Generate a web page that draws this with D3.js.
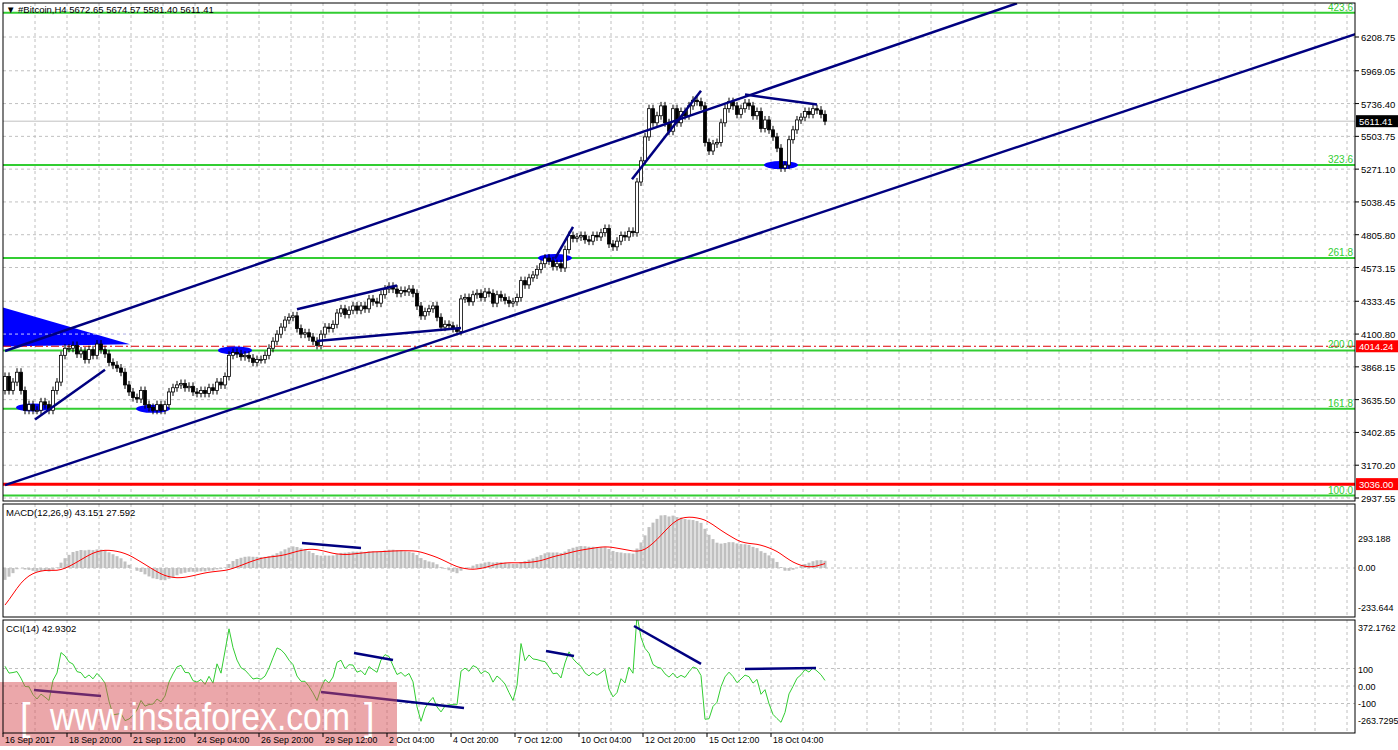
<!DOCTYPE html>
<html><head><meta charset="utf-8">
<script src="https://cdn.jsdelivr.net/npm/d3@7"></script>
<style>body{margin:0;background:#fff}svg{display:block}text{font-family:"Liberation Sans",Arial,sans-serif}</style>
</head><body><svg id="c" width="1398" height="750"></svg>
<script>
// ---------- data ----------
const priorCloses=[4300,4250,4200,4150,4100,4050,4000,3950,3900,3850,3800,3750,3700,3650,3600,3500,3400,3300,3200,3150,3100,3050,3000,3100,3300,3450,3600,3700,3750,3700];
const closes=[
3800,3700,3760,3830,3700,3560,3600,3560,
3560,3620,3600,3560,3700,3760,3950,4000,
4000,4020,3960,3980,3920,3990,3950,4030,
3990,3960,3900,3880,3860,3830,3740,3690,
3650,3640,3700,3600,3580,3560,3600,3560,
3600,3690,3720,3740,3750,3720,3730,3690,
3680,3700,3680,3720,3700,3760,3740,3800,
3950,3970,3960,3940,3950,3930,3900,3920,
3920,3950,4000,4050,4100,4150,4200,4220,
4230,4140,4100,4110,4080,4050,4020,4100,
4150,4140,4170,4250,4280,4240,4270,4300,
4270,4300,4280,4350,4330,4320,4380,4420,
4440,4420,4390,4410,4400,4420,4390,4300,
4230,4260,4280,4300,4220,4150,4170,4160,
4140,4120,4350,4360,4330,4380,4390,4360,
4400,4390,4320,4380,4360,4340,4320,4330,
4360,4480,4450,4500,4520,4560,4600,4640,
4620,4580,4600,4570,4700,4800,4780,4790,
4800,4770,4760,4800,4790,4820,4850,4740,
4720,4760,4800,4790,4830,4820,5180,5330,
5500,5700,5600,5650,5720,5600,5540,5700,
5600,5680,5650,5720,5760,5750,5720,5460,
5400,5450,5460,5600,5700,5750,5720,5660,
5700,5740,5720,5650,5680,5560,5620,5550,
5500,5420,5280,5300,5480,5550,5620,5640,
5680,5660,5700,5690,5660,5611.41];
const priceTicks=[6208.75,5969.05,5736.40,5503.75,5271.10,5038.45,4805.80,4573.15,4333.45,4100.80,3868.15,3635.50,3402.85,3170.20,2937.55];
const timeLabels=["16 Sep 2017","18 Sep 20:00","21 Sep 12:00","24 Sep 04:00","26 Sep 20:00","29 Sep 12:00","2 Oct 04:00","4 Oct 20:00","7 Oct 12:00","10 Oct 04:00","12 Oct 20:00","15 Oct 12:00","18 Oct 04:00"];
const fibLevels=[{l:"423.6",p:6380},{l:"323.6",p:5300},{l:"261.8",p:4640},{l:"200.0",p:3985},{l:"161.8",p:3570},{l:"100.0",p:2955}];
const trendLines=[[0,3981,253,6448],[0,3029,348,6328],[7.5,3494,25,3847],[78,4051,114,4143],[73,4277,98,4446],[137.5,4636,142,4862],[156.75,5200,174,5828],[185,5800,203,5730]];
const ellipses=[[7,3580],[37,3570],[57.5,3985],[137.5,4640],[194,5300]];
const cciLines=[[7.25,-23,24,-57],[79,-34,114.75,-126],[87.25,189,97,149],[135.25,200,142.25,171],[157.25,343,174,126],[185,97,202.75,103]];
const macdLines=[[74.25,129,89,103]];
const macdTicks=[["293.188",538],["0.00",567],["-233.644",607]];
const cciTicks=[["372.1762",627],["100",669],["0.00",686],["-100",703],["-263.7295",720]];

// ---------- scales ----------
const svg=d3.select("#c");
const X0=3,XR=1355;
const x=d3.scaleLinear().domain([0,1]).range([X0+2,X0+6]);
const y=d3.scaleLinear().domain([6208.75,2937.55]).range([37,498]);
const yc=d3.scaleLinear().domain([0,100]).range([686,668.5]);
const ym=d3.scaleLinear().domain([0,300]).range([568,510]);
const navy="#000080";

const all=priorCloses.concat(closes),np=priorCloses.length;
function ema(a,n){const k=2/(n+1);let r=[a[0]];for(let i=1;i<a.length;i++)r.push(a[i]*k+r[i-1]*(1-k));return r;}
const e12=ema(all,12),e26=ema(all,26),main=all.map((v,i)=>e12[i]-e26[i]);
const sig=main.map((v,i)=>d3.mean(main.slice(Math.max(0,i-8),i+1)));
const cci=all.map((v,i)=>{const s=all.slice(Math.max(0,i-13),i+1);const m=d3.mean(s);const md=d3.mean(s,d=>Math.abs(d-m));return md?(v-m)/(0.015*md):0;});
const M=main.slice(np),S=sig.slice(np),C=cci.slice(np);

const defs=svg.append("defs");
defs.append("clipPath").attr("id","cp").append("rect").attr("x",X0).attr("y",3).attr("width",XR-X0).attr("height",498);
defs.append("clipPath").attr("id","cc").append("rect").attr("x",X0).attr("y",620).attr("width",XR-X0).attr("height",113);
defs.append("clipPath").attr("id","cm").append("rect").attr("x",X0).attr("y",504).attr("width",XR-X0).attr("height",113);

const g=svg.append("g").attr("stroke","#c0c0c0").attr("stroke-dasharray","3,3");
for(let i=8;x(i)-2<XR;i+=8){[[3,501],[504,617],[620,733]].forEach(r=>g.append("line").attr("x1",x(i)-2).attr("x2",x(i)-2).attr("y1",r[0]).attr("y2",r[1]));}
priceTicks.forEach(p=>g.append("line").attr("x1",X0).attr("x2",XR).attr("y1",y(p)).attr("y2",y(p)));
[100,0,-100].forEach(v=>g.append("line").attr("x1",X0).attr("x2",XR).attr("y1",yc(v)).attr("y2",yc(v)));
g.append("line").attr("x1",X0).attr("x2",XR).attr("y1",ym(0)).attr("y2",ym(0));

const P=svg.append("g").attr("clip-path","url(#cp)");
P.append("path").attr("d",`M${X0},${y(4290)}L130,${y(4028)}L${X0},${y(4012)}Z`).attr("fill","#0000ff");
P.append("line").attr("x1",X0).attr("x2",130).attr("y1",y(4100.8)).attr("y2",y(4100.8)).attr("stroke","#c8c8ff").attr("stroke-dasharray","3,3");
fibLevels.forEach(f=>{P.append("line").attr("x1",X0).attr("x2",XR).attr("y1",y(f.p)).attr("y2",y(f.p)).attr("stroke","#32cd32").attr("stroke-width",2);
 svg.append("text").attr("x",XR-2).attr("y",y(f.p)-2).attr("text-anchor","end").attr("font-size",10).attr("fill","#32cd32").text(f.l);});
P.append("line").attr("x1",X0).attr("x2",XR).attr("y1",y(3036)).attr("y2",y(3036)).attr("stroke","#ff0000").attr("stroke-width",3);
P.append("line").attr("x1",X0).attr("x2",XR).attr("y1",y(4014.24)).attr("y2",y(4014.24)).attr("stroke","#dd0000").attr("stroke-dasharray","8,3,2,3");
P.append("line").attr("x1",X0).attr("x2",XR).attr("y1",y(5611.41)).attr("y2",y(5611.41)).attr("stroke","#c0c0c0");
ellipses.forEach(e=>P.append("ellipse").attr("cx",x(e[0])).attr("cy",y(e[1])).attr("rx",17).attr("ry",4).attr("fill","#0000ff"));
closes.forEach((c,i)=>{const o=i?closes[i-1]:priorCloses[np-1];const cx=x(i);
 const t=Math.min(y(o),y(c)),b=Math.max(y(o),y(c));
 P.append("line").attr("x1",cx).attr("x2",cx).attr("y1",t-4).attr("y2",b+4).attr("stroke","#000");
 P.append("rect").attr("x",cx-1.5).attr("y",t).attr("width",3).attr("height",Math.max(b-t,1)).attr("fill",c>=o?"#fff":"#000").attr("stroke","#000").attr("stroke-width",0.8);});
trendLines.forEach(t=>P.append("line").attr("x1",x(t[0])).attr("y1",y(t[1])).attr("x2",x(t[2])).attr("y2",y(t[3])).attr("stroke",navy).attr("stroke-width",2.5));

const Mg=svg.append("g").attr("clip-path","url(#cm)");
M.forEach((v,i)=>Mg.append("rect").attr("x",x(i)-1.5).attr("width",3).attr("y",Math.min(ym(v),ym(0))).attr("height",Math.abs(ym(v)-ym(0))).attr("fill","#c0c0c0"));
Mg.append("path").attr("d",d3.line().x((d,i)=>x(i)).y(d=>ym(d))(S)).attr("fill","none").attr("stroke","#ff0000");
macdLines.forEach(t=>Mg.append("line").attr("x1",x(t[0])).attr("y1",ym(t[1])).attr("x2",x(t[2])).attr("y2",ym(t[3])).attr("stroke",navy).attr("stroke-width",2.5));
const Cg=svg.append("g").attr("clip-path","url(#cc)");
Cg.append("path").attr("d",d3.line().x((d,i)=>x(i)).y(d=>yc(d))(C)).attr("fill","none").attr("stroke","#32cd32");
cciLines.forEach(t=>Cg.append("line").attr("x1",x(t[0])).attr("y1",yc(t[1])).attr("x2",x(t[2])).attr("y2",yc(t[3])).attr("stroke",navy).attr("stroke-width",2.5));

svg.append("rect").attr("x",0).attr("y",682).attr("width",397).attr("height",64).attr("fill","rgba(215,80,85,0.5)");
svg.append("text").attr("x",20).attr("y",730).attr("font-size",38).attr("fill","#fff").attr("font-weight","300").text("[");
svg.append("text").attr("x",50).attr("y",730).attr("font-size",38).attr("fill","#fff").attr("textLength",300).attr("lengthAdjust","spacingAndGlyphs").text("www.instaforex.com");
svg.append("text").attr("x",364).attr("y",730).attr("font-size",38).attr("fill","#fff").text("]");

const fr=svg.append("g").attr("fill","none").attr("stroke","#000");
fr.append("rect").attr("x",X0).attr("y",3).attr("width",XR-X0).attr("height",498);
fr.append("rect").attr("x",X0).attr("y",504).attr("width",XR-X0).attr("height",113);
fr.append("rect").attr("x",X0).attr("y",620).attr("width",XR-X0).attr("height",113);

const tx=(t,xx,yy,o={})=>svg.append("text").attr("x",xx).attr("y",yy).attr("font-size",o.fs||10).attr("fill",o.fill||"#000").attr("text-anchor",o.a||"start").text(t);
priceTicks.forEach(p=>{svg.append("line").attr("x1",XR).attr("x2",XR+4).attr("y1",y(p)).attr("y2",y(p)).attr("stroke","#000");tx(p.toFixed(2),XR+6,y(p)+4,{fs:9.5});});
function box(v,col,fg){const yy=y(v);svg.append("rect").attr("x",XR+1).attr("y",yy-6).attr("width",42).attr("height",12).attr("fill",col);tx(v.toFixed(2),XR+4,yy+4,{fill:fg,fs:9.5});}
box(5611.41,"#000","#fff");box(4014.24,"#ff0000","#fff");box(3036,"#ff0000","#fff");
macdTicks.forEach(t=>tx(t[0],XR+3,t[1]+4,{fs:9}));
cciTicks.forEach(t=>tx(t[0],XR+3,t[1]+4,{fs:9}));
timeLabels.forEach((t,k)=>{const xx=x(k*16)-2;svg.append("line").attr("x1",xx).attr("x2",xx).attr("y1",733).attr("y2",737).attr("stroke","#000");tx(t,xx+2,743,{fs:8.8});});
tx("▼  #Bitcoin,H4  5672.65 5674.57 5581.40 5611.41",6,13,{fs:9.5});
tx("MACD(12,26,9) 43.151 27.592",6,516,{fs:9.5});
tx("CCI(14) 42.9302",6,632,{fs:9.5});
</script></body></html>
